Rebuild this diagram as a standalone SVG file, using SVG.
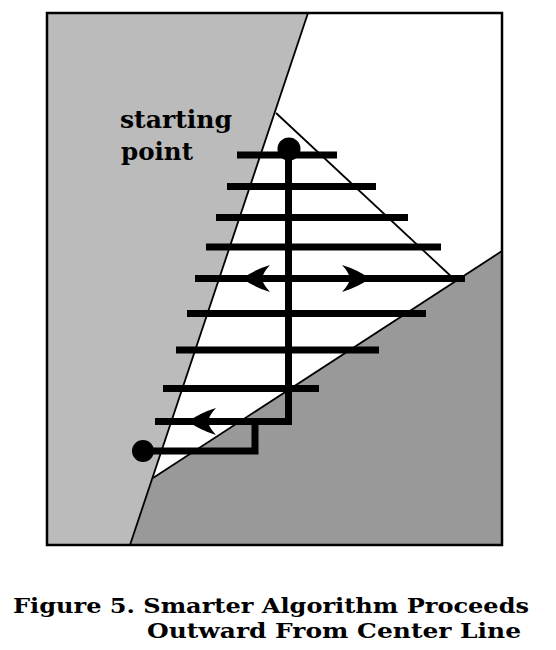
<svg xmlns="http://www.w3.org/2000/svg" width="556" height="650" viewBox="0 0 556 650">
<style>
.scan{stroke:#000;stroke-width:7;fill:none;stroke-linecap:butt}
.thin{stroke:#000;stroke-width:1.8;fill:none}
.lbl{font-family:"DejaVu Serif","Liberation Serif",serif;font-weight:bold;fill:#000}
</style>
<defs>
<path id="ah" d="M0,0 Q13,-9 28,-13.5 Q21,-6 20,0 Q21,6 28,13.5 Q13,9 0,0 Z" fill="#000"/>
</defs>
<rect x="0" y="0" width="556" height="650" fill="#fff"/>
<g id="regions">
<polygon points="47,13 308,13 130,545 47,545" fill="#bbbbbb"/>
<polygon points="502,251 153,478 130,545 502,545" fill="#999999"/>
<line class="thin" x1="308" y1="13" x2="130" y2="545"/>
<line class="thin" x1="502" y1="251" x2="153" y2="478"/>
<line class="thin" x1="276" y1="113" x2="455" y2="280"/>
<rect x="47" y="13" width="455" height="532" fill="none" stroke="#000" stroke-width="2.5"/>
</g>
<g id="connectors">
<line class="scan" x1="237" y1="155" x2="337" y2="155"/>
<line class="scan" x1="227" y1="186.5" x2="376" y2="186.5"/>
<line class="scan" x1="216" y1="217.5" x2="408" y2="217.5"/>
<line class="scan" x1="206" y1="247" x2="441" y2="247"/>
<line class="scan" x1="195" y1="278.5" x2="465" y2="278.5"/>
<line class="scan" x1="187" y1="313.5" x2="426" y2="313.5"/>
<line class="scan" x1="176" y1="350" x2="379" y2="350"/>
<line class="scan" x1="163" y1="388.5" x2="319" y2="388.5"/>
<line class="scan" x1="155" y1="421.5" x2="292" y2="421.5"/>
<line class="scan" x1="288.5" y1="150" x2="288.5" y2="425"/>
<polyline class="scan" points="255,418 255,451 143,451"/>
<use href="#ah" transform="translate(242,278.5)"/>
<use href="#ah" transform="translate(370,278.5) rotate(180)"/>
<use href="#ah" transform="translate(188,421.5)"/>
</g>
<g id="start-point">
<circle cx="289" cy="149" r="11.5" fill="#000"/>
</g>
<g id="end-point">
<circle cx="143" cy="451" r="11" fill="#000"/>
</g>
<g id="label">
<text class="lbl" x="120" y="128" font-size="24" textLength="112" lengthAdjust="spacingAndGlyphs">starting</text>
<text class="lbl" x="121" y="160" font-size="24" textLength="72" lengthAdjust="spacingAndGlyphs">point</text>
</g>
<g id="caption">
<text class="lbl" x="13" y="613" font-size="20.5" textLength="516" lengthAdjust="spacingAndGlyphs">Figure 5. Smarter Algorithm Proceeds</text>
<text class="lbl" x="147" y="638" font-size="20.5" textLength="374" lengthAdjust="spacingAndGlyphs">Outward From Center Line</text>
</g>
</svg>
